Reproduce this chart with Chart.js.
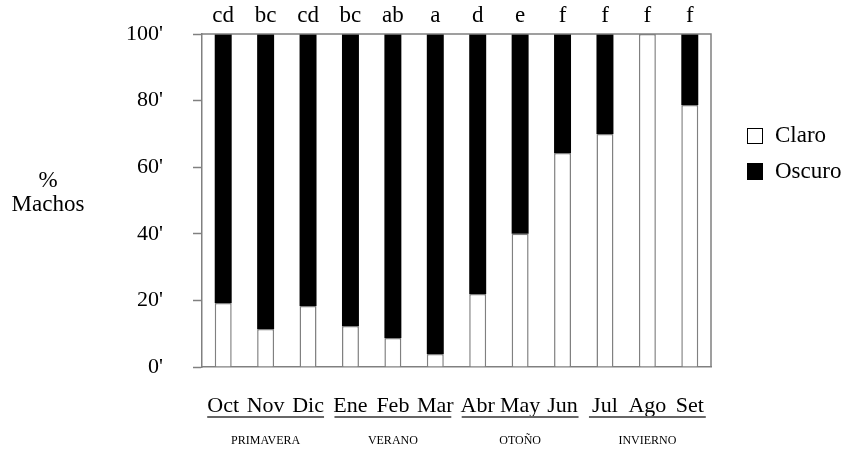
<!DOCTYPE html>
<html>
<head>
<meta charset="utf-8">
<script src="https://cdn.jsdelivr.net/npm/chart.js@4"></script>
<style>
  html, body { margin: 0; padding: 0; background: #fff; }
  #wrap { width: 846px; height: 449px; }
</style>
</head>
<body>
<div id="wrap"><canvas id="grafico"></canvas></div>
<script>
// datos
var meses = ['Oct', 'Nov', 'Dic', 'Ene', 'Feb', 'Mar', 'Abr', 'May', 'Jun', 'Jul', 'Ago', 'Set'];
var claro = [19.2, 11.4, 18.3, 12.3, 8.7, 3.9, 21.9, 40, 64.3, 70, 100, 78.7];
var oscuro = claro.map(function (v) { return 100 - v; });
var letras = ['cd', 'bc', 'cd', 'bc', 'ab', 'a', 'd', 'e', 'f', 'f', 'f', 'f'];
var estaciones = ['PRIMAVERA', 'VERANO', 'OTOÑO', 'INVIERNO'];
var ticksY = [0, 20, 40, 60, 80, 100];

var serif = '"Liberation Serif", "Times New Roman", serif';
var gris = '#808080';

// letras, bordes, subrayados, estaciones y leyenda
var extras = {
  id: 'extras',
  afterDraw: function (chart) {
    var ctx = chart.ctx;
    var a = chart.chartArea;
    var x = chart.scales.x;
    ctx.save();
    // borde superior y derecho
    ctx.strokeStyle = gris;
    ctx.lineWidth = 1.5;
    ctx.beginPath();
    ctx.moveTo(a.left, a.top);
    ctx.lineTo(a.right, a.top);
    ctx.lineTo(a.right, a.bottom);
    ctx.stroke();

    // letras sobre las barras
    var meta = chart.getDatasetMeta(1);
    ctx.fillStyle = '#000';
    ctx.font = '23px ' + serif;
    ctx.textAlign = 'center';
    ctx.textBaseline = 'middle';
    letras.forEach(function (l, i) {
      ctx.fillText(l, meta.data[i].x, 16);
    });

    // subrayados y estaciones
    ctx.strokeStyle = '#666';
    ctx.lineWidth = 2;
    for (var g = 0; g < 4; g++) {
      var x0 = x.getPixelForValue(g * 3) - 16;
      var x1 = x.getPixelForValue(g * 3 + 2) + 16;
      ctx.beginPath();
      ctx.moveTo(x0, 417);
      ctx.lineTo(x1, 417);
      ctx.stroke();
      ctx.font = '12px ' + serif;
      ctx.fillText(estaciones[g], x.getPixelForValue(g * 3 + 1), 441);
    }

    // titulo eje y
    ctx.font = '23px ' + serif;
    ctx.fillText('%', 48, 181);
    ctx.fillText('Machos', 48, 205);

    // leyenda
    ctx.textAlign = 'left';
    ctx.lineWidth = 1;
    ctx.strokeStyle = '#000';
    ctx.fillStyle = '#fff';
    ctx.fillRect(747.5, 128.5, 15, 15);
    ctx.strokeRect(747.5, 128.5, 15, 15);
    ctx.fillStyle = '#000';
    ctx.fillRect(747, 163, 16, 17);
    ctx.fillText('Claro', 775, 136);
    ctx.fillText('Oscuro', 775, 172);
    ctx.restore();
  }
};

new Chart(document.getElementById('grafico'), {
  type: 'bar',
  data: {
    labels: meses,
    datasets: [{
      label: 'Claro',
      data: claro,
      backgroundColor: '#fff',
      borderColor: gris,
      borderWidth: 1.5,
      barPercentage: 0.4,
      categoryPercentage: 1
    }, {
      label: 'Oscuro',
      data: oscuro,
      backgroundColor: '#000',
      borderColor: '#000',
      borderWidth: 0,
      barPercentage: 0.4,
      categoryPercentage: 1
    }]
  },
  options: {
    responsive: true,
    maintainAspectRatio: false,
    animation: false,
    layout: { padding: { top: 34, right: 135, left: 0, bottom: 0 } },
    plugins: {
      legend: { display: false },
      tooltip: { enabled: false }
    },
    scales: {
      x: {
        stacked: true,
        grid: { display: false },
        border: { color: gris, width: 1.5 },
        ticks: { color: '#000', font: { family: serif, size: 22 }, padding: 18, maxRotation: 0, autoSkip: false },
        afterFit: function (s) { s.height = 82; }
      },
      y: {
        stacked: true,
        min: 0,
        max: 100,
        afterBuildTicks: function (s) { s.ticks = ticksY.map(function (v) { return { value: v }; }); },
        grid: { drawOnChartArea: false, color: gris, tickLength: 9, tickWidth: 1.5 },
        border: { color: gris, width: 1.5 },
        ticks: {
          color: '#000',
          font: { family: serif, size: 22 },
          padding: 30,
          callback: function (v) { return v + "'"; }
        },
        afterFit: function (s) {
          s.width = 202;
          s.paddingTop = 0;
          s.paddingBottom = 0;
        }
      }
    }
  },
  plugins: [extras]
});
</script>
</body>
</html>
